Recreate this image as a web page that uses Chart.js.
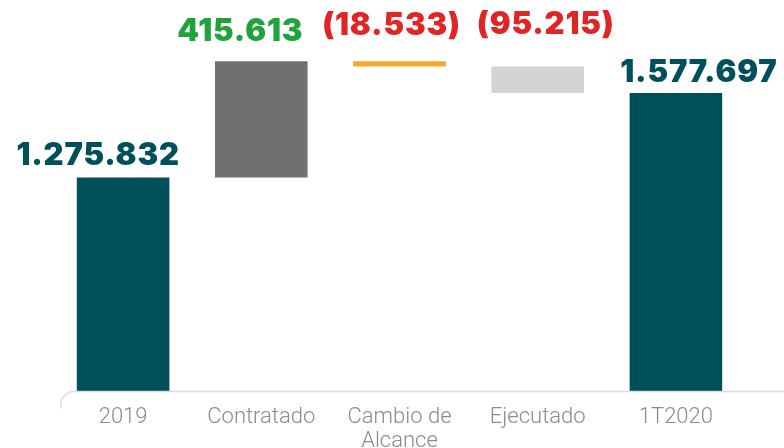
<!DOCTYPE html>
<html>
<head>
<meta charset="utf-8">
<script src="https://cdn.jsdelivr.net/npm/chart.js@4"></script>
<style>
  html, body { margin: 0; padding: 0; background: #ffffff; }
  #wrap { width: 784px; height: 448px; position: relative; }
</style>
</head>
<body>
<div id="wrap"><canvas id="c" width="784" height="448"></canvas></div>
<script>
// ---- data ----
const categories = ['2019', 'Contratado', ['Cambio de', 'Alcance'], 'Ejecutado', '1T2020'];
const values = [1275832, 415613, -18533, -95215, 1577697];
const isTotal = [true, false, false, false, true];

// ---- styles ----
const barColors = ['#00505C', '#707070', '#F4A92A', '#D4D4D4', '#00505C'];
const labelColors = ['#00505C', '#1FA33C', '#E12424', '#E12424', '#00505C'];
const labelGap = [13, 20, 26, 32, 11];
const labelShift = [-25, -21, -8, 8, 23];

// floating ranges built from values
const ranges = [];
let running = 0;
values.forEach((v, i) => {
  if (isTotal[i]) { ranges.push([0, v]); running = v; }
  else { ranges.push([running, running + v]); running += v; }
});

function fmt(v) {
  const s = String(Math.abs(v)).replace(/\B(?=(\d{3})+(?!\d))/g, '.');
  return v < 0 ? '(' + s + ')' : s;
}

const labelPlugin = {
  id: 'valueLabels',
  afterDatasetsDraw(chart) {
    const ctx = chart.ctx;
    const meta = chart.getDatasetMeta(0);
    ctx.save();
    ctx.font = '900 31px Inter';
    try { ctx.letterSpacing = '0.8px'; } catch (e) {}
    ctx.textAlign = 'center';
    ctx.textBaseline = 'alphabetic';
    meta.data.forEach((bar, i) => {
      const top = Math.min(bar.y, bar.base);
      ctx.fillStyle = labelColors[i];
      ctx.fillText(fmt(values[i]), bar.x + labelShift[i], top - labelGap[i]);
    });
    ctx.restore();
  }
};

const axisLinePlugin = {
  id: 'axisLine',
  afterDraw(chart) {
    const ctx = chart.ctx;
    const y = chart.chartArea.bottom + 0.5;
    ctx.save();
    ctx.strokeStyle = '#DCDCDC';
    ctx.lineWidth = 1.5;
    ctx.beginPath();
    ctx.moveTo(chart.width, y);
    ctx.lineTo(74, y);
    ctx.arcTo(61, y, 61, y + 13, 13);
    ctx.lineTo(61, y + 17);
    ctx.stroke();
    ctx.restore();
  }
};

new Chart(document.getElementById('c'), {
  type: 'bar',
  data: {
    labels: categories,
    datasets: [{
      data: ranges,
      backgroundColor: barColors,
      borderWidth: 0,
      barPercentage: 0.67,
      categoryPercentage: 1.0
    }]
  },
  options: {
    responsive: false,
    animation: false,
    devicePixelRatio: 1,
    layout: { padding: { left: 54, right: 39, top: 0, bottom: 0 } },
    plugins: { legend: { display: false }, tooltip: { enabled: false } },
    scales: {
      x: {
        grid: { display: false },
        border: { display: false },
        ticks: {
          color: '#8C8C8C',
          font: { family: 'Roboto', weight: '300', size: 22, lineHeight: 1.08 },
          padding: 7,
          maxRotation: 0,
          autoSkip: false
        },
        afterFit(scale) { scale.height = 57; }
      },
      y: {
        display: false,
        min: 514000,
        max: 1910000
      }
    }
  },
  plugins: [labelPlugin, axisLinePlugin]
});
</script>
</body>
</html>
